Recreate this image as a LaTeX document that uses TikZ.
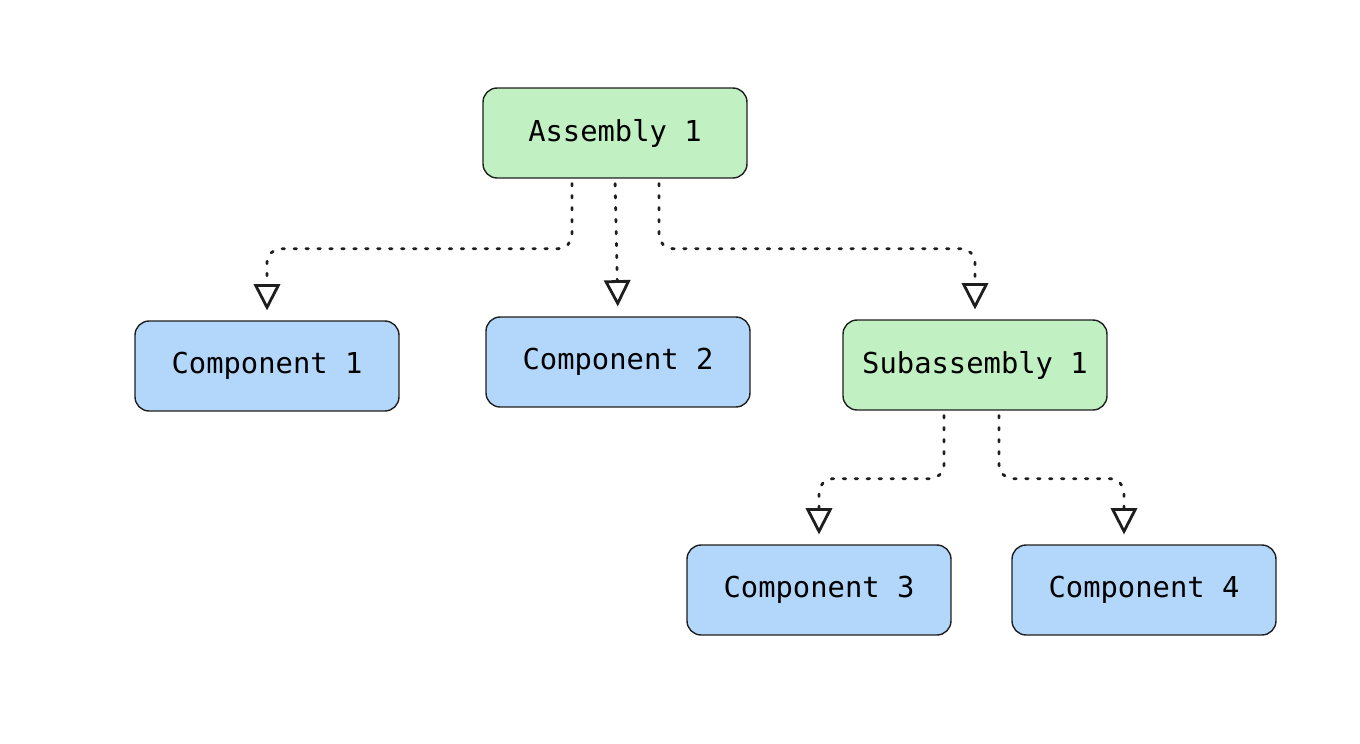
\documentclass[tikz,border=0pt]{standalone}
\usepackage{fontspec}
\setmonofont{DejaVu Sans Mono}
\usetikzlibrary{arrows.meta,positioning,calc}
\definecolor{ink}{RGB}{30,30,30}
\definecolor{lightgreen}{RGB}{193,240,194}
\definecolor{lightblue}{RGB}{178,215,250}
\tikzset{
  assemblybox/.style={draw=ink, rounded corners=8pt, line width=0.8pt,
    minimum width=5.28cm, minimum height=1.8cm, align=center, fill=lightgreen,
    font=\ttfamily\fontsize{16.4}{19}\selectfont},
  partbox/.style={draw=ink, rounded corners=8pt, line width=0.8pt,
    minimum width=5.28cm, minimum height=1.8cm, align=center, fill=lightblue,
    font=\ttfamily\fontsize{16.4}{19}\selectfont},
  flow/.style={-{Triangle[open, length=15pt, width=15pt]}, draw=ink, line width=1.6pt,
    dash pattern=on 1.4pt off 5.4pt, line cap=round, rounded corners=8pt,
    shorten <=2.8pt, shorten >=5.6pt}
}
\begin{document}
\begin{tikzpicture}[x=0.02cm, y=-0.02cm]
\useasboundingbox (0,0) rectangle (1360,744);

\node[assemblybox] (asm) at (615,133) {Assembly 1};
\node[partbox] (comp1) at (267,366) {Component 1};
\node[partbox] (comp2) at (618,362) {Component 2};
\node[assemblybox] (subasm) at (975,365) {Subassembly 1};
\node[partbox] (comp3) at (819,590) {Component 3};
\node[partbox] (comp4) at (1144,590) {Component 4};

\draw[flow] ($(asm.south)+(-43,0)$) -- ++(0,70) -| (comp1.north);
\draw[flow] (asm.south) -- (comp2.north);
\draw[flow] ($(asm.south)+(44,0)$) -- ++(0,70) -| (subasm.north);
\draw[flow] ($(subasm.south)+(-31,0)$) -- ++(0,68) -| (comp3.north);
\draw[flow] ($(subasm.south)+(24,0)$) -- ++(0,68) -| ($(comp4.north)+(-20,0)$);
\end{tikzpicture}
\end{document}
